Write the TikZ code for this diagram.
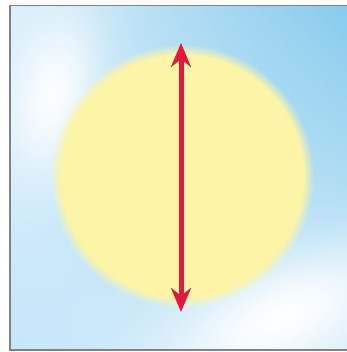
\documentclass[tikz,border=0pt]{standalone}
\usetikzlibrary{arrows.meta}
\definecolor{arrowred}{HTML}{E3183D}
\definecolor{framegray}{HTML}{7F8385}
% background sky (bilinear), two white glows and the soft-edged sun, as one colour field
\pgfdeclarefunctionalshading{skysun}{\pgfpoint{0bp}{0bp}}{\pgfpoint{347bp}{352bp}}{}{
 352 exch sub
 1 index 52 sub 1 index 95 sub dup 0.15 mul 3 -1 roll add 44 div dup mul exch 80 div dup mul add neg 2.71828 exch exp 0.9 mul
 2 index 282 sub 2 index 316 sub 1 index 0.35 mul add 55 div dup mul exch 110 div dup mul add neg 2.71828 exch exp 0.95 mul
 2 copy lt {exch} if pop
 2 index 182 sub dup mul 2 index 176 sub dup mul add sqrt 132 exch sub 11 div
 dup 0 lt {pop 0} if dup 1 gt {pop 1} if
 4 -2 roll 352 div exch 347 div exch
 1 index dup -0.338 mul 0.863 add exch 0.063 mul 0.776 add 1 index sub 2 index mul add 1 1 index sub 5 index mul add 0.988 1 index sub 4 index mul add 5 1 roll
 1 index dup -0.141 mul 0.937 add exch 0.027 mul 0.902 add 1 index sub 2 index mul add 1 1 index sub 5 index mul add 0.961 1 index sub 4 index mul add 5 1 roll
 1 index dup -0.051 mul 0.980 add exch 0.003 mul 0.973 add 1 index sub 2 index mul add 1 1 index sub 5 index mul add 0.659 1 index sub 4 index mul add 5 1 roll
 pop pop pop pop
}
\tikzset{
  bgbox/.style={inner sep=0pt, outer sep=0pt, anchor=north west},
  dimarrow/.style={draw=arrowred, line width=5bp, {Stealth[length=24bp,width=20bp]}-{Stealth[length=24bp,width=20bp]}},
  frameline/.style={draw=framegray, line width=1.6bp}
}
\begin{document}
\begin{tikzpicture}[x=1bp,y=-1bp]
\useasboundingbox (0,0) rectangle (347,352);
\fill[white] (0,0) rectangle (347,352);
\begin{scope}
\clip (10,5.5) rectangle (352,350);
\node[bgbox] (sky) at (0,0) {\pgfuseshading{skysun}};
\end{scope}
\coordinate (top) at (181,43);
\coordinate (bot) at (181,312);
\draw[dimarrow] (top) -- (bot);
\draw[frameline] (10,5.5) rectangle (352,350);
\end{tikzpicture}
\end{document}
